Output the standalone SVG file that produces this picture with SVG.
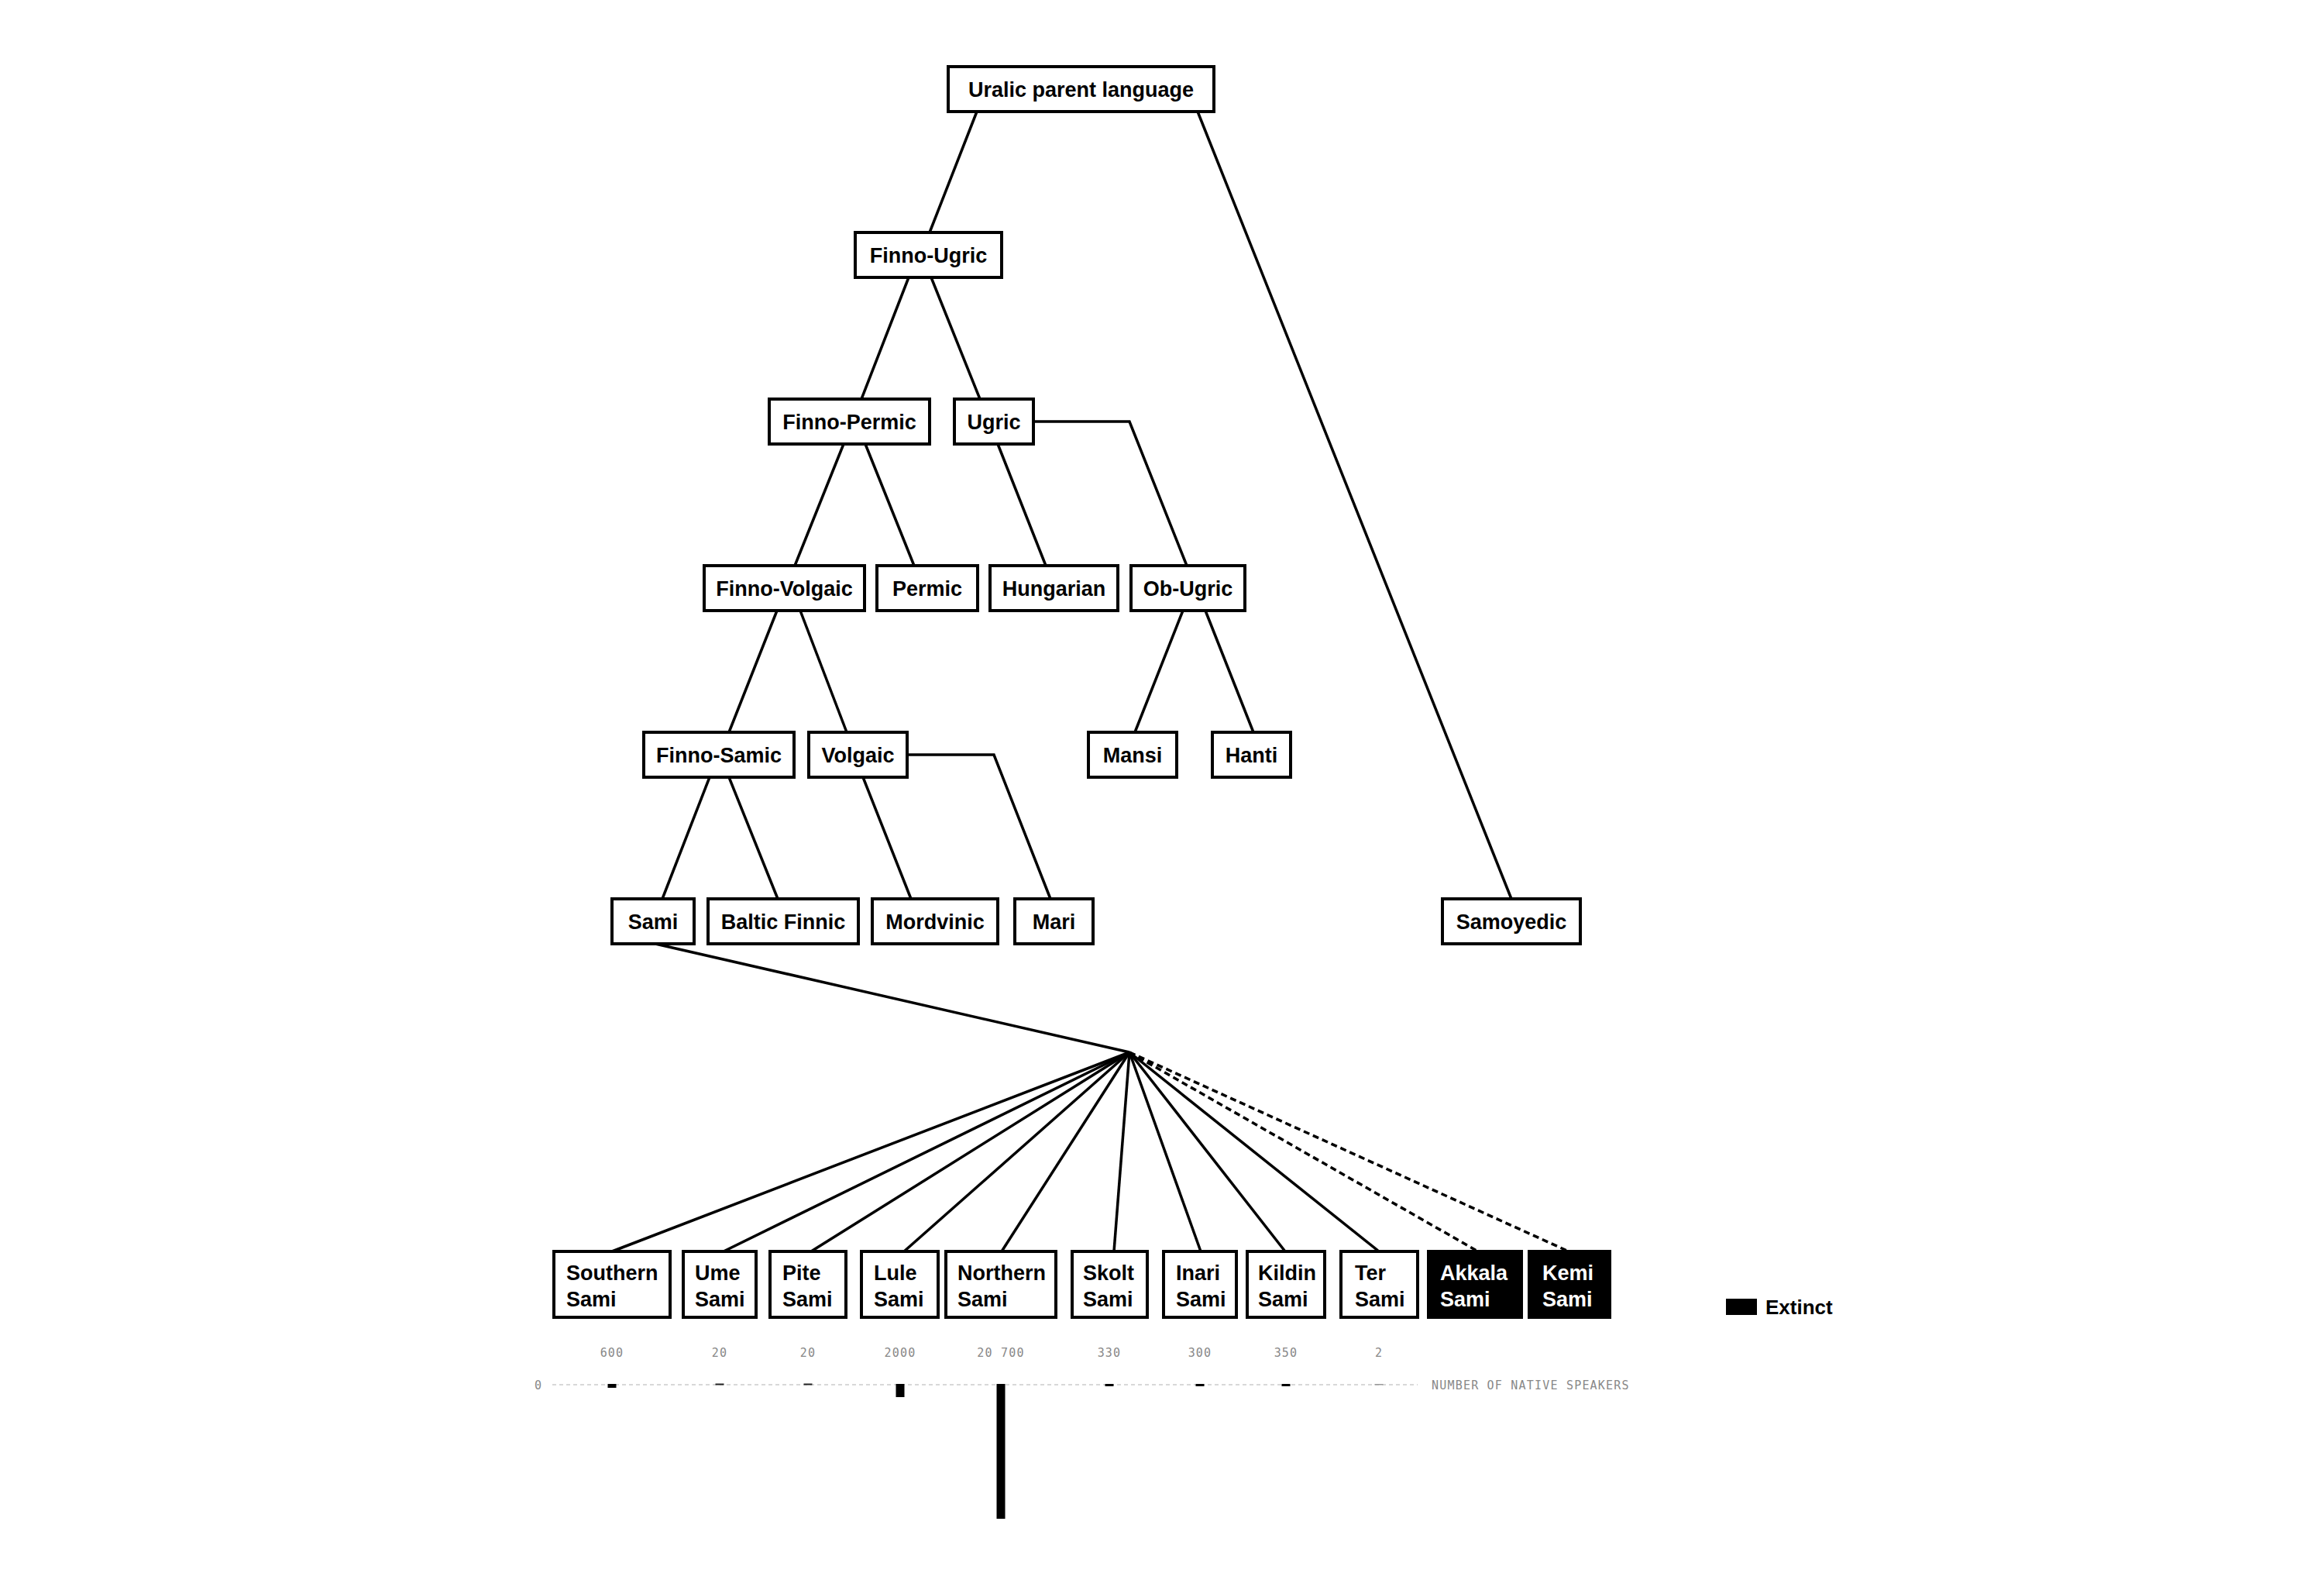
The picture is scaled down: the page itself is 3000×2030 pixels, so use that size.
<svg xmlns="http://www.w3.org/2000/svg" width="3000" height="2030" viewBox="0 0 3000 2030">
<style>
.box{fill:#fff;stroke:#000;stroke-width:4}
.ext{fill:#000;stroke:#000;stroke-width:4}
.t{font-family:"Liberation Sans",Arial,sans-serif;font-weight:bold;font-size:27px;fill:#000}
.tc{text-anchor:middle}
.tw{fill:#fff}
.ln{fill:none;stroke:#000;stroke-width:3.5;stroke-linejoin:miter}
.dl{fill:none;stroke:#000;stroke-width:3.5;stroke-dasharray:8 5}
.num{font-family:"DejaVu Sans Mono","Liberation Mono",monospace;font-size:15px;fill:#888;letter-spacing:1.2px}
.axis{stroke:#ccc;stroke-width:1.5;stroke-dasharray:5 4}
.bar{fill:#000}
</style>
<rect width="3000" height="2030" fill="#fff"/>
<g id="connectors">
<line class="ln" x1="1261" y1="144" x2="1200" y2="300"/>
<line class="ln" x1="1546" y1="144" x2="1951" y2="1160"/>
<line class="ln" x1="1173" y1="358" x2="1112" y2="515"/>
<line class="ln" x1="1202" y1="358" x2="1265" y2="515"/>
<line class="ln" x1="1089" y1="573" x2="1026" y2="730"/>
<line class="ln" x1="1117" y1="573" x2="1180" y2="730"/>
<line class="ln" x1="1288" y1="573" x2="1350" y2="730"/>
<polyline class="ln" points="1334,544 1458,544 1532,730"/>
<line class="ln" x1="1003" y1="788" x2="941" y2="945"/>
<line class="ln" x1="1033" y1="788" x2="1093" y2="945"/>
<line class="ln" x1="1527" y1="788" x2="1465" y2="945"/>
<line class="ln" x1="1556" y1="788" x2="1618" y2="945"/>
<line class="ln" x1="916" y1="1003" x2="855" y2="1160"/>
<line class="ln" x1="941" y1="1003" x2="1004" y2="1160"/>
<line class="ln" x1="1114" y1="1003" x2="1176" y2="1160"/>
<polyline class="ln" points="1171,974 1283,974 1356,1160"/>
<line class="ln" x1="846" y1="1218" x2="1458" y2="1358"/>
<line class="ln" x1="1458" y1="1358" x2="790" y2="1615"/>
<line class="ln" x1="1458" y1="1358" x2="934" y2="1615"/>
<line class="ln" x1="1458" y1="1358" x2="1047" y2="1615"/>
<line class="ln" x1="1458" y1="1358" x2="1167" y2="1615"/>
<line class="ln" x1="1458" y1="1358" x2="1293" y2="1615"/>
<line class="ln" x1="1458" y1="1358" x2="1438" y2="1615"/>
<line class="ln" x1="1458" y1="1358" x2="1550" y2="1615"/>
<line class="ln" x1="1458" y1="1358" x2="1659" y2="1615"/>
<line class="ln" x1="1458" y1="1358" x2="1780" y2="1615"/>
<line class="dl" x1="1458" y1="1358" x2="1908" y2="1615"/>
<line class="dl" x1="1458" y1="1358" x2="2025" y2="1615"/>
</g>
<g id="uralic"><rect class="box" x="1224" y="86" width="343" height="58"/><text class="t tc" x="1395.5" y="124.5">Uralic parent language</text></g>
<g id="finno-ugric"><rect class="box" x="1104" y="300" width="189" height="58"/><text class="t tc" x="1198.5" y="338.5">Finno-Ugric</text></g>
<g id="finno-permic"><rect class="box" x="993" y="515" width="207" height="58"/><text class="t tc" x="1096.5" y="553.5">Finno-Permic</text></g>
<g id="ugric"><rect class="box" x="1232" y="515" width="102" height="58"/><text class="t tc" x="1283" y="553.5">Ugric</text></g>
<g id="finno-volgaic"><rect class="box" x="909" y="730" width="207" height="58"/><text class="t tc" x="1012.5" y="768.5">Finno-Volgaic</text></g>
<g id="permic"><rect class="box" x="1132" y="730" width="130" height="58"/><text class="t tc" x="1197" y="768.5">Permic</text></g>
<g id="hungarian"><rect class="box" x="1278" y="730" width="165" height="58"/><text class="t tc" x="1360.5" y="768.5">Hungarian</text></g>
<g id="ob-ugric"><rect class="box" x="1460" y="730" width="147" height="58"/><text class="t tc" x="1533.5" y="768.5">Ob-Ugric</text></g>
<g id="finno-samic"><rect class="box" x="831" y="945" width="194" height="58"/><text class="t tc" x="928" y="983.5">Finno-Samic</text></g>
<g id="volgaic"><rect class="box" x="1044" y="945" width="127" height="58"/><text class="t tc" x="1107.5" y="983.5">Volgaic</text></g>
<g id="mansi"><rect class="box" x="1405" y="945" width="114" height="58"/><text class="t tc" x="1462" y="983.5">Mansi</text></g>
<g id="hanti"><rect class="box" x="1565" y="945" width="101" height="58"/><text class="t tc" x="1615.5" y="983.5">Hanti</text></g>
<g id="sami"><rect class="box" x="790" y="1160" width="106" height="58"/><text class="t tc" x="843" y="1198.5">Sami</text></g>
<g id="baltic-finnic"><rect class="box" x="914" y="1160" width="194" height="58"/><text class="t tc" x="1011" y="1198.5">Baltic Finnic</text></g>
<g id="mordvinic"><rect class="box" x="1126" y="1160" width="162" height="58"/><text class="t tc" x="1207" y="1198.5">Mordvinic</text></g>
<g id="mari"><rect class="box" x="1310" y="1160" width="101" height="58"/><text class="t tc" x="1360.5" y="1198.5">Mari</text></g>
<g id="samoyedic"><rect class="box" x="1862" y="1160" width="178" height="58"/><text class="t tc" x="1951" y="1198.5">Samoyedic</text></g>
<g id="southern-sami"><rect class="box" x="715" y="1615" width="150" height="85"/><text class="t" x="731" y="1652">Southern</text><text class="t" x="731" y="1686">Sami</text></g>
<g id="ume-sami"><rect class="box" x="882" y="1615" width="94" height="85"/><text class="t" x="897" y="1652">Ume</text><text class="t" x="897" y="1686">Sami</text></g>
<g id="pite-sami"><rect class="box" x="994" y="1615" width="98" height="85"/><text class="t" x="1010" y="1652">Pite</text><text class="t" x="1010" y="1686">Sami</text></g>
<g id="lule-sami"><rect class="box" x="1112" y="1615" width="99" height="85"/><text class="t" x="1128" y="1652">Lule</text><text class="t" x="1128" y="1686">Sami</text></g>
<g id="northern-sami"><rect class="box" x="1221" y="1615" width="142" height="85"/><text class="t" x="1236" y="1652">Northern</text><text class="t" x="1236" y="1686">Sami</text></g>
<g id="skolt-sami"><rect class="box" x="1384" y="1615" width="97" height="85"/><text class="t" x="1398" y="1652">Skolt</text><text class="t" x="1398" y="1686">Sami</text></g>
<g id="inari-sami"><rect class="box" x="1502" y="1615" width="94" height="85"/><text class="t" x="1518" y="1652">Inari</text><text class="t" x="1518" y="1686">Sami</text></g>
<g id="kildin-sami"><rect class="box" x="1610" y="1615" width="100" height="85"/><text class="t" x="1624" y="1652">Kildin</text><text class="t" x="1624" y="1686">Sami</text></g>
<g id="ter-sami"><rect class="box" x="1731" y="1615" width="99" height="85"/><text class="t" x="1749" y="1652">Ter</text><text class="t" x="1749" y="1686">Sami</text></g>
<g id="akkala-sami"><rect class="ext" x="1844" y="1615" width="120" height="85"/><text class="t tw" x="1859" y="1652">Akkala</text><text class="t tw" x="1859" y="1686">Sami</text></g>
<g id="kemi-sami"><rect class="ext" x="1974" y="1615" width="104" height="85"/><text class="t tw" x="1991" y="1652">Kemi</text><text class="t tw" x="1991" y="1686">Sami</text></g>
<g id="legend"><rect x="2228" y="1676" width="40" height="21" fill="#000"/><text class="t" x="2279" y="1696" style="font-size:26px">Extinct</text></g>
<g id="speakers">
<line class="axis" x1="713" y1="1787" x2="1830" y2="1787"/>
<text class="num" x="695" y="1793" text-anchor="middle">0</text>
<text class="num" x="1848" y="1793">NUMBER OF NATIVE SPEAKERS</text>
<text class="num" x="790" y="1751" text-anchor="middle">600</text>
<text class="num" x="929" y="1751" text-anchor="middle">20</text>
<text class="num" x="1043" y="1751" text-anchor="middle">20</text>
<text class="num" x="1162" y="1751" text-anchor="middle">2000</text>
<text class="num" x="1292" y="1751" text-anchor="middle">20 700</text>
<text class="num" x="1432" y="1751" text-anchor="middle">330</text>
<text class="num" x="1549" y="1751" text-anchor="middle">300</text>
<text class="num" x="1660" y="1751" text-anchor="middle">350</text>
<text class="num" x="1780" y="1751" text-anchor="middle">2</text>
<rect class="bar" x="784.5" y="1786" width="11" height="5"/>
<rect x="923.5" y="1785.5" width="11" height="2" fill="#222"/>
<rect x="1037.5" y="1785.5" width="11" height="2" fill="#222"/>
<rect class="bar" x="1156.5" y="1786" width="11" height="17"/>
<rect class="bar" x="1286.5" y="1786" width="11" height="174"/>
<rect class="bar" x="1426.5" y="1786" width="11" height="3"/>
<rect class="bar" x="1543.5" y="1786" width="11" height="3"/>
<rect class="bar" x="1654.5" y="1786" width="11" height="3"/>
<rect x="1774.5" y="1786" width="11" height="1.5" fill="#999"/>
</g>
</svg>
